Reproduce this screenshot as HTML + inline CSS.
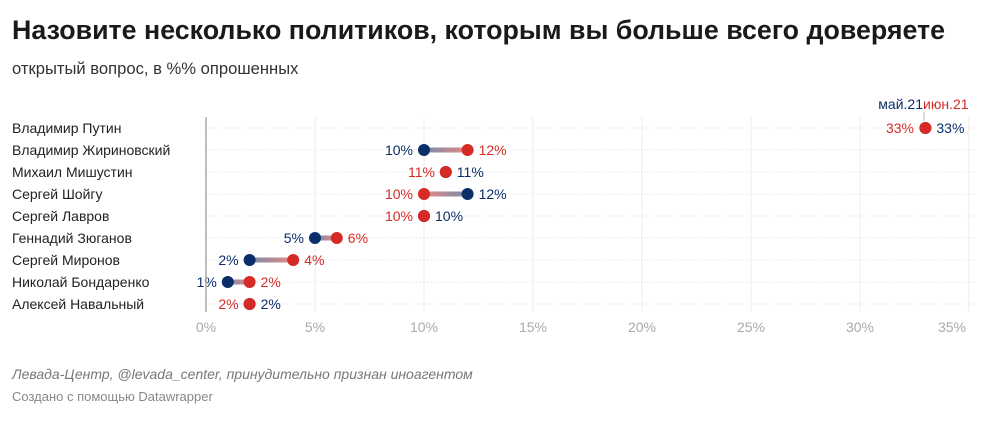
<!DOCTYPE html>
<html><head><meta charset="utf-8"><style>
body{margin:0;background:#fff;width:1000px;height:416px;overflow:hidden;font-family:"Liberation Sans",sans-serif}
</style></head><body>
<svg width="1000" height="416" xmlns="http://www.w3.org/2000/svg" font-family="Liberation Sans, sans-serif">
<defs>
<linearGradient id="gbr" x1="0" x2="1" y1="0" y2="0"><stop offset="0" stop-color="#0b2e6b" stop-opacity="0.55"/><stop offset="1" stop-color="#d62a26" stop-opacity="0.55"/></linearGradient>
<linearGradient id="grb" x1="0" x2="1" y1="0" y2="0"><stop offset="0" stop-color="#d62a26" stop-opacity="0.55"/><stop offset="1" stop-color="#0b2e6b" stop-opacity="0.55"/></linearGradient>
</defs>
<text x="12" y="39" font-size="26.8" font-weight="bold" fill="#1a1a1a">Назовите несколько политиков, которым вы больше всего доверяете</text>
<text x="12" y="74" font-size="16.6" fill="#333">открытый вопрос, в %% опрошенных</text>

<g stroke="#ececec">
<line x1="315" x2="315" y1="117" y2="312"/><line x1="424" x2="424" y1="117" y2="312"/><line x1="533" x2="533" y1="117" y2="312"/><line x1="642" x2="642" y1="117" y2="312"/><line x1="751" x2="751" y1="117" y2="312"/><line x1="860" x2="860" y1="117" y2="312"/><line x1="969" x2="969" y1="117" y2="312"/>
</g>
<g stroke="#ddd" stroke-dasharray="1 2">
<line x1="206" x2="975" y1="128" y2="128"/><line x1="206" x2="975" y1="150" y2="150"/><line x1="206" x2="975" y1="172" y2="172"/><line x1="206" x2="975" y1="194" y2="194"/><line x1="206" x2="975" y1="216" y2="216"/><line x1="206" x2="975" y1="238" y2="238"/><line x1="206" x2="975" y1="260" y2="260"/><line x1="206" x2="975" y1="282" y2="282"/><line x1="206" x2="975" y1="304" y2="304"/>
</g>
<g font-size="14" fill="#aaa" text-anchor="middle">
<text x="206" y="332">0%</text><text x="315" y="332">5%</text><text x="424" y="332">10%</text><text x="533" y="332">15%</text><text x="642" y="332">20%</text><text x="751" y="332">25%</text><text x="860" y="332">30%</text><text x="952" y="332">35%</text>
</g>
<g font-size="14" fill="#222">
<text x="12" y="133">Владимир Путин</text><text x="12" y="155">Владимир Жириновский</text><text x="12" y="177">Михаил Мишустин</text><text x="12" y="199">Сергей Шойгу</text><text x="12" y="221">Сергей Лавров</text><text x="12" y="243">Геннадий Зюганов</text><text x="12" y="265">Сергей Миронов</text><text x="12" y="287">Николай Бондаренко</text><text x="12" y="309">Алексей Навальный</text>
</g>
<g>
<rect x="424" y="147.5" width="43.6" height="5" fill="url(#gbr)"/>
<rect x="424" y="191.5" width="43.6" height="5" fill="url(#grb)"/>
<rect x="315" y="235.5" width="21.8" height="5" fill="url(#gbr)"/>
<rect x="249.6" y="257.5" width="43.6" height="5" fill="url(#gbr)"/>
<rect x="227.8" y="279.5" width="21.8" height="5" fill="url(#gbr)"/>
</g>
<g fill="#0b2e6b">
<circle cx="925.4" cy="128" r="6"/><circle cx="424" cy="150" r="6"/><circle cx="445.8" cy="172" r="6"/><circle cx="467.6" cy="194" r="6"/><circle cx="424" cy="216" r="6"/><circle cx="315" cy="238" r="6"/><circle cx="249.6" cy="260" r="6"/><circle cx="227.8" cy="282" r="6"/><circle cx="249.6" cy="304" r="6"/>
</g>
<g fill="#d62a26">
<circle cx="925.4" cy="128" r="6"/><circle cx="467.6" cy="150" r="6"/><circle cx="445.8" cy="172" r="6"/><circle cx="424" cy="194" r="6"/><circle cx="424" cy="216" r="6"/><circle cx="336.8" cy="238" r="6"/><circle cx="293.2" cy="260" r="6"/><circle cx="249.6" cy="282" r="6"/><circle cx="249.6" cy="304" r="6"/>
</g>
<g font-size="14" text-anchor="end">
<text x="914" y="133" fill="#d62a26">33%</text>
<text x="413" y="155" fill="#0b2e6b">10%</text>
<text x="435" y="177" fill="#d62a26">11%</text>
<text x="413" y="199" fill="#d62a26">10%</text>
<text x="413" y="221" fill="#d62a26">10%</text>
<text x="304" y="243" fill="#0b2e6b">5%</text>
<text x="238.6" y="265" fill="#0b2e6b">2%</text>
<text x="216.8" y="287" fill="#0b2e6b">1%</text>
<text x="238.6" y="309" fill="#d62a26">2%</text>
</g>
<g font-size="14">
<text x="936.4" y="133" fill="#0b2e6b">33%</text>
<text x="478.6" y="155" fill="#d62a26">12%</text>
<text x="456.8" y="177" fill="#0b2e6b">11%</text>
<text x="478.6" y="199" fill="#0b2e6b">12%</text>
<text x="435" y="221" fill="#0b2e6b">10%</text>
<text x="347.8" y="243" fill="#d62a26">6%</text>
<text x="304.2" y="265" fill="#d62a26">4%</text>
<text x="260.6" y="287" fill="#d62a26">2%</text>
<text x="260.6" y="309" fill="#0b2e6b">2%</text>
</g>
<line x1="206" x2="206" y1="117" y2="312" stroke="#aaa" stroke-width="1.5"/>
<line x1="924" x2="924" y1="112" y2="121" stroke="#bbb"/>
<text x="923" y="109" font-size="14" fill="#0b2e6b" text-anchor="end">май.21</text>
<text x="923" y="109" font-size="14" fill="#d62a26">июн.21</text>
<text x="12" y="379" font-size="14" font-style="italic" fill="#777">Левада-Центр, @levada_center, принудительно признан иноагентом</text>
<text x="12" y="401" font-size="13" fill="#888">Создано с помощью Datawrapper</text>
</svg>
</body></html>
